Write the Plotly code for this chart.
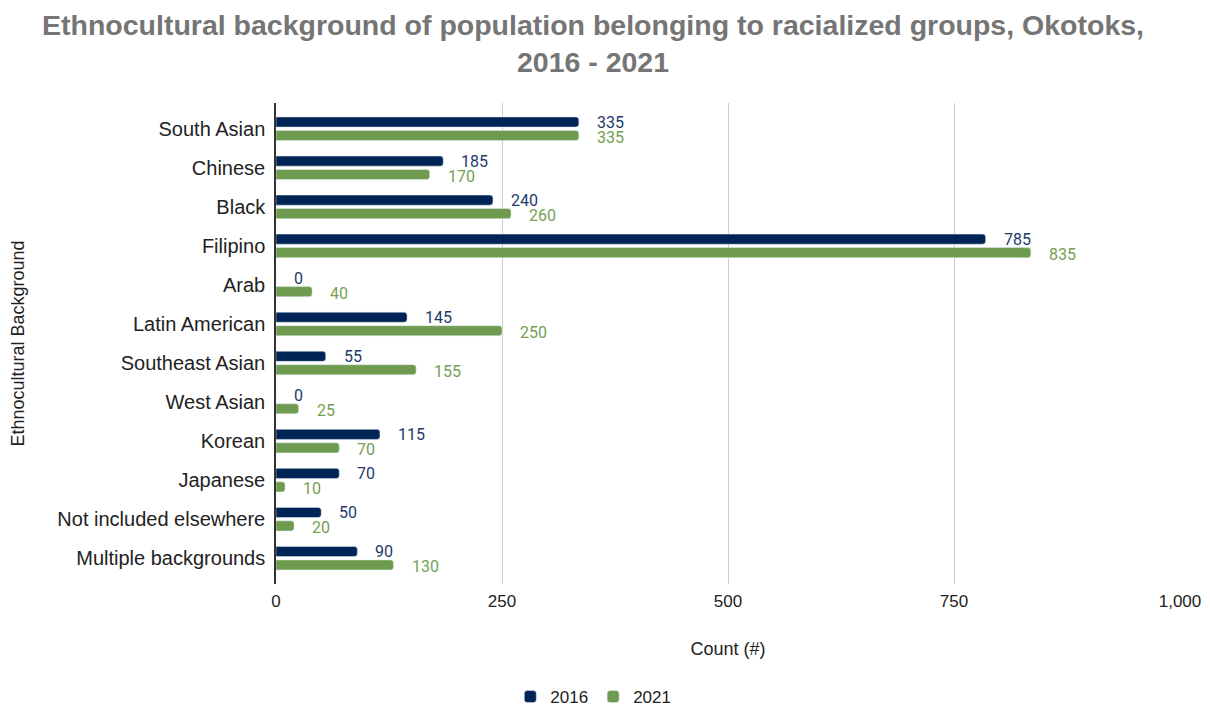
import plotly.graph_objects as go

categories = ["South Asian", "Chinese", "Black", "Filipino", "Arab", "Latin American",
              "Southeast Asian", "West Asian", "Korean", "Japanese",
              "Not included elsewhere", "Multiple backgrounds"]
values_2016 = [335, 185, 240, 785, 0, 145, 55, 0, 115, 70, 50, 90]
values_2021 = [335, 170, 260, 835, 40, 250, 155, 25, 70, 10, 20, 130]
x_ticks = [0, 250, 500, 750, 1000]
x_tick_labels = ["0", "250", "500", "750", "1,000"]

c2016 = "#002456"
c2021 = "#6f9b50"
TXT = "#222222"
ARIAL = "Liberation Sans, Arial, sans-serif"

fig = go.Figure()
fig.add_trace(go.Bar(y=categories, x=values_2016, name="2016", orientation="h",
                     marker_color=c2016))
fig.add_trace(go.Bar(y=categories, x=values_2021, name="2021", orientation="h",
                     marker_color=c2021))

annotations = []
for cat, v in zip(categories, values_2016):
    annotations.append(dict(x=v, y=cat, text=str(v), showarrow=False, xanchor="left",
                            xshift=16, yshift=6.5, font=dict(family="Roboto", size=16, color="#1d3a6a")))
for cat, v in zip(categories, values_2021):
    annotations.append(dict(x=v, y=cat, text=str(v), showarrow=False, xanchor="left",
                            xshift=16, yshift=-8.5, font=dict(family="Roboto", size=16, color="#73a052")))

# the page body adds an 8px offset; figure size is reduced to compensate
fig.update_layout(
    width=1202, height=699,
    paper_bgcolor="white", plot_bgcolor="white",
    margin=dict(l=268, r=30, t=95, b=123, autoexpand=False),
    title=dict(text="Ethnocultural background of population belonging to racialized groups, Okotoks,<br>2016 - 2021",
               x=0.4867, xanchor="center", xref="container", y=0.9618, yref="container", yanchor="top",
               font=dict(family=ARIAL, size=28.5, color="#757575", weight="bold")),
    barmode="group", bargap=0.31, bargroupgap=0.25, barcornerradius=3,
    showlegend=True,
    legend=dict(orientation="h", x=0.351, xanchor="center", y=-0.235, yanchor="middle",
                font=dict(family=ARIAL, size=17, color=TXT)),
    annotations=annotations,
    font=dict(family=ARIAL),
)
fig.update_xaxes(range=[0, 1000], tickvals=x_ticks, ticktext=x_tick_labels,
                 showgrid=True, gridcolor="#cccccc", gridwidth=1, zeroline=False,
                 tickfont=dict(family=ARIAL, size=17, color=TXT), automargin=False,
                 ticklabelstandoff=5,
                 title=dict(text="Count (#)", font=dict(family=ARIAL, size=18, color=TXT), standoff=32),
                 ticks="", showline=False)
fig.update_yaxes(range=[11.66, -0.66], showline=True, linecolor="#333333", linewidth=1.5,
                 tickfont=dict(family=ARIAL, size=20, color=TXT), automargin=False,
                 title=dict(text="Ethnocultural Background", font=dict(family=ARIAL, size=18, color=TXT), standoff=28),
                 ticks="", ticklabelstandoff=5)

fig.write_html("out.html")
